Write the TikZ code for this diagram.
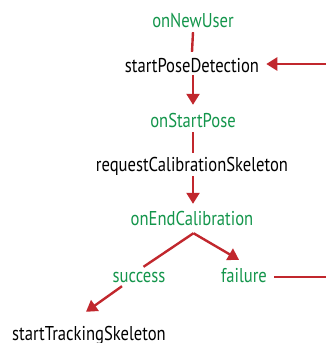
\documentclass[tikz,border=0pt]{standalone}
\usepackage{fontspec}
\setmainfont[FakeStretch=0.83]{PT Sans}
\usetikzlibrary{arrows.meta,calc}
\definecolor{cbred}{HTML}{C1272D}
\definecolor{cbgreen}{HTML}{13954B}
\begin{document}
\begin{tikzpicture}[x=1pt,y=-1pt,
  lbl/.style={font=\fontsize{20}{22}\selectfont, inner sep=0pt, text height=14pt, text depth=4pt, anchor=base},
  evt/.style={lbl, text=cbgreen},
  act/.style={lbl, text=black},
  conn/.style={draw=cbred, line width=2.4pt},
  arr/.style={conn, -{Triangle[length=11pt,width=13pt]}}]
\useasboundingbox (0,0) rectangle (326,343);
\node[evt] (onu) at (193,27) {onNewUser};
\node[act] (spd) at (192,72) {startPoseDetection};
\node[evt] (osp) at (193,127) {onStartPose};
\node[act] (rcs) at (192,171) {requestCalibrationSkeleton};
\node[evt] (oec) at (192,225) {onEndCalibration};
\node[evt] (suc) at (139,282) {success};
\node[evt] (fai) at (244,282) {failure};
\node[act] (sts) at (89,340) {startTrackingSkeleton};
\coordinate (rin) at (326,64);
\coordinate (rout) at (326,277);
% connectors
\draw[conn] ($(onu.south)+(0,1)$) -- ($(spd.north)+(0,-6)$);
\draw[arr] ($(spd.south)+(1,-1)$) -- ($(osp.north)+(0,-8)$);
\draw[conn] ($(osp.south)+(0,1)$) -- ($(rcs.north)+(1,-4)$);
\draw[arr] ($(rcs.south)+(1,1)$) -- ($(oec.north)+(1,-7)$);
\draw[arr] (rin) -- ($(spd.east |- rin)+(7,0)$);
\draw[conn] ($(oec.south)+(1.5,4)$) -- ($(suc.north)+(4.5,-1)$);
\draw[arr] ($(oec.south)+(1.5,4)$) -- ($(fai.north)+(-5,-8)$);
\draw[arr] ($(suc.south)+(-17,0)$) -- ($(sts.north)+(-3,-14)$);
\draw[conn] ($(fai.east)+(7,0)$) -- (rout);
\end{tikzpicture}
\end{document}
